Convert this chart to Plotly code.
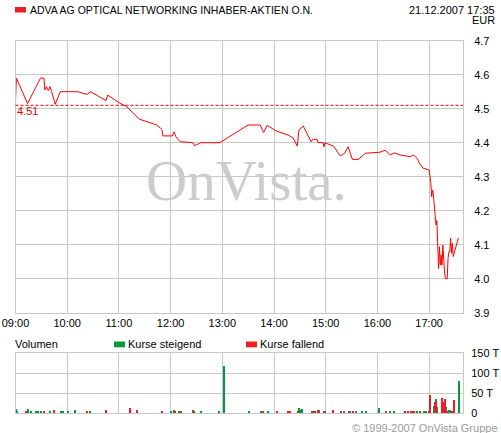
import plotly.graph_objects as go

DAY = "2007-12-21 "

# intraday price (EUR)
price_time = ["09:00", "09:01", "09:14", "09:29", "09:33", "09:34", "09:36", "09:38", "09:40",
              "09:42", "09:46", "09:52", "10:12", "10:23", "10:27", "10:45", "10:47", "11:00",
              "11:09", "11:21", "11:24", "11:44", "11:50", "11:51", "12:02", "12:04", "12:06",
              "12:11", "12:26", "12:28", "12:35", "12:57", "13:30", "13:44", "13:48", "13:52",
              "14:03", "14:15", "14:22", "14:27", "14:29", "14:34", "14:38", "14:43", "14:45",
              "14:50", "14:51", "14:57", "14:58", "14:59", "15:09", "15:17", "15:22", "15:26",
              "15:31", "15:38", "15:46", "16:03", "16:09", "16:15", "16:20", "16:26", "16:38",
              "16:42", "16:46", "16:49", "16:53", "17:00", "17:02", "17:03", "17:04", "17:05",
              "17:07", "17:08", "17:09", "17:10", "17:11", "17:12", "17:13", "17:14", "17:15",
              "17:16", "17:17", "17:18", "17:19", "17:21", "17:22", "17:23", "17:24", "17:25",
              "17:26", "17:27", "17:28", "17:30", "17:32", "17:34"]
price = [4.52, 4.59, 4.515, 4.59, 4.59, 4.555, 4.565, 4.553, 4.565,
         4.55, 4.513, 4.55, 4.55, 4.542, 4.55, 4.524, 4.54, 4.518,
         4.506, 4.475, 4.469, 4.452, 4.439, 4.42, 4.42, 4.432, 4.418,
         4.403, 4.40, 4.391, 4.40, 4.40, 4.452, 4.452, 4.43, 4.451,
         4.434, 4.424, 4.415, 4.39, 4.437, 4.449, 4.43, 4.403, 4.41,
         4.41, 4.401, 4.40, 4.388, 4.40, 4.39, 4.361, 4.369, 4.388,
         4.351, 4.351, 4.369, 4.372, 4.378, 4.364, 4.37, 4.364, 4.359,
         4.364, 4.354, 4.339, 4.325, 4.32, 4.281, 4.241, 4.261, 4.246,
         4.187, 4.158, 4.171, 4.099, 4.03, 4.094, 4.04, 4.07, 4.04,
         4.099, 4.05, 4.016, 4.0, 4.0, 4.06, 4.08, 4.08, 4.119,
         4.075, 4.104, 4.065, 4.084, 4.104, 4.12]
prev_close = 4.51

# volume in thousands
up_time = ["09:00", "09:01", "09:14", "09:17", "09:23", "09:26", "09:29", "09:39", "09:52",
           "09:54", "10:00", "10:09", "10:26", "10:45", "12:00", "12:03", "12:09", "12:25",
           "12:35", "12:56", "13:01", "13:30", "13:44", "13:52", "14:28", "14:30", "14:32",
           "14:45", "14:52", "14:59", "15:21", "15:26", "15:35", "15:42", "15:46", "16:01",
           "16:14", "16:19", "16:42", "16:45", "16:54", "16:56", "17:00", "17:05", "17:07",
           "17:09", "17:16", "17:19", "17:22", "17:24", "17:34"]
up_vol = [10, 4, 10, 4, 4, 4, 4, 4, 4,
          4, 4, 7.5, 5, 4, 4, 7.5, 5, 6.7,
          4, 4, 117, 4, 4, 4, 13, 7, 11,
          5, 8, 3, 3, 3, 3, 3, 3, 13,
          3, 5, 5, 3, 3, 3, 3, 18, 35,
          16, 28, 16, 8, 8, 81]
down_time = ["09:12", "09:32", "09:44", "10:22", "10:44", "11:12", "11:20", "11:49", "12:05",
             "12:11", "12:27", "13:47", "14:03", "14:16", "14:18", "14:27", "14:43", "14:47",
             "14:50", "14:57", "15:08", "15:17", "15:28", "15:31", "16:09", "16:31", "16:35",
             "16:38", "16:41", "16:49", "16:59", "17:01", "17:06", "17:08", "17:14", "17:15",
             "17:18", "17:20", "17:26", "17:28"]
down_vol = [5, 4, 7.5, 5, 8, 12, 6.5, 5, 4,
            4, 4, 3, 4, 3, 3, 6, 5, 3,
            8, 6, 8, 3, 3, 6, 3, 3, 3,
            3, 3, 6, 3, 46, 27, 27, 37, 27,
            35, 6, 3, 33]

RED = "#ee1c25"
GREEN = "#009a3d"
GRID = "#c8c8c8"
FONT = "Liberation Sans, Arial, sans-serif"
W, H = 501, 433


def px(x):
    return x / W


def py(y):
    return 1 - y / H


def ts(t):
    return [DAY + s for s in t]


fig = go.Figure()
fig.add_trace(go.Scatter(x=ts(price_time), y=price, mode="lines",
                         line=dict(color="#ff0000", width=1), hoverinfo="skip",
                         xaxis="x", yaxis="y"))
fig.add_trace(go.Bar(x=ts(up_time), y=up_vol, marker=dict(color=GREEN, line_width=0),
                     width=70000, xaxis="x2", yaxis="y2"))
fig.add_trace(go.Bar(x=ts(down_time), y=down_vol, marker=dict(color=RED, line_width=0),
                     width=70000, xaxis="x2", yaxis="y2"))

xcommon = dict(type="date", range=[DAY + "09:00", DAY + "17:39:20"], dtick=3600000,
               tick0=DAY + "09:00", tickformat="%H:%M", showgrid=True, gridcolor=GRID,
               gridwidth=1, showline=True, linecolor=GRID, linewidth=1, mirror=True,
               ticks="", zeroline=False, automargin=False,
               tickfont=dict(size=11, color="black", family=FONT))
ycommon = dict(side="right", showgrid=True, gridcolor=GRID, gridwidth=1, showline=True,
               linecolor=GRID, linewidth=1, mirror=True, ticks="", zeroline=False,
               automargin=False, tickfont=dict(size=11, color="black", family=FONT))

fig.update_layout(
    width=W, height=H, margin=dict(l=0, r=0, t=0, b=0),
    paper_bgcolor="white", plot_bgcolor="white", showlegend=False, bargap=0,
    font=dict(family=FONT, size=11, color="black"),
    xaxis=dict(xcommon, domain=[px(15.5), px(463)], anchor="y"),
    yaxis=dict(ycommon, domain=[py(312.7), py(40.7)], range=[3.9, 4.7], dtick=0.1,
               tickformat=".1f", ticklabelstandoff=8),
    xaxis2=dict(xcommon, domain=[px(15.5), px(463)], anchor="y2", matches="x",
                showticklabels=False),
    yaxis2=dict(ycommon, domain=[py(413.3), py(353.3)], range=[0, 150],
                tickvals=[0, 50, 100, 150], ticktext=["0", "50 T", "100 T", "150 T"],
                ticklabelstandoff=5),
)

# previous close reference line
fig.add_shape(type="line", xref="x domain", yref="y", x0=0, x1=1, y0=prev_close, y1=prev_close,
              line=dict(color="#e00000", width=1, dash="3px,2px"))

# legend swatches
for x0, x1, y0, y1, c in [(15, 26, 7, 12.5, RED), (114, 125, 341.5, 347.3, GREEN),
                          (246, 257, 341.5, 347.3, RED)]:
    fig.add_shape(type="rect", xref="paper", yref="paper", x0=px(x0), x1=px(x1),
                  y0=py(y1), y1=py(y0), fillcolor=c, line_width=0)


def note(text, x, y, anchor="left", color="black", size=11, family=FONT):
    fig.add_annotation(text=text, xref="paper", yref="paper", x=px(x), y=py(y),
                       xanchor=anchor, yanchor="middle", showarrow=False,
                       font=dict(size=size, color=color, family=family), borderpad=0)


note("ADVA AG OPTICAL NETWORKING INHABER-AKTIEN O.N.", 29, 10, size=10.5)
note("21.12.2007 17:35", 496, 10, "right")
note("EUR", 496, 20.5, "right")
note(f"{prev_close:.2f}", 16, 111.5, color="#e00000")
note("Volumen", 14, 343.5)
note("Kurse steigend", 127, 343.5)
note("Kurse fallend", 259, 343.5)
note("© 1999-2007 OnVista Gruppe", 499, 427.5, "right", color="#999999")
note("OnVista.", 246, 180, "center", color="#cccccc", size=57,
     family="Liberation Serif, Times New Roman, serif")

# page body has a default 8px margin; drop it so the figure fills the window
fig.write_html("out.html", config={"displayModeBar": False},
               post_script="document.body.style.margin='0';")
